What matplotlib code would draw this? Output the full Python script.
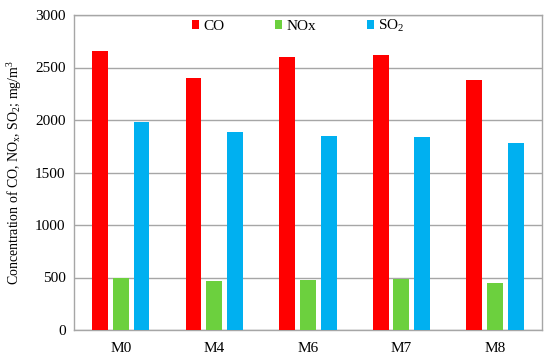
import matplotlib
matplotlib.use("Agg")
import matplotlib.pyplot as plt
import numpy as np

categories = ["M0", "M4", "M6", "M7", "M8"]
co = [2660, 2403, 2603, 2619, 2378]
nox = [498, 463, 473, 486, 444]
so2 = [1978, 1886, 1851, 1835, 1784]
series_names = ["CO", "NOx", "SO$_2$"]
colors = ["#FF0000", "#6CD03E", "#00B0F0"]

plt.rcParams["font.family"] = ["Liberation Serif", "DejaVu Serif"]
plt.rcParams["mathtext.fontset"] = "custom"
plt.rcParams["mathtext.rm"] = "Liberation Serif"
plt.rcParams["mathtext.it"] = "Liberation Serif:italic"
plt.rcParams["mathtext.bf"] = "Liberation Serif:bold"

fig = plt.figure(figsize=(5.5, 3.59), dpi=100)
ax = fig.add_axes([74/550, 1-330/359, (541.7-74)/550, (330-15)/359])

x = np.arange(len(categories))
w = 0.17
off = 0.222
for i, (vals, name, c) in enumerate(zip([co, nox, so2], series_names, colors)):
    ax.bar(x + (i-1)*off, vals, width=w, color=c, label=name, zorder=3)

ax.set_xlim(-0.5, len(categories)-0.5)
ax.set_ylim(0, 3000)
ax.set_yticks(np.arange(0, 3001, 500))
ax.set_xticks(x)
ax.set_xticklabels(categories)
ax.yaxis.grid(True, color="#A6A6A6", linewidth=1, zorder=0)
for s in ax.spines.values():
    s.set_color("#A6A6A6")
    s.set_linewidth(1)
ax.tick_params(axis="both", length=0, labelsize=11, colors="black", pad=6)
ax.tick_params(axis="x", pad=9)
ax.set_ylabel("Concentration of CO, NO$_\\mathrm{x}$, SO$_2$; mg/m$^3$", fontsize=10, labelpad=8)

ax.legend(loc="upper center", bbox_to_anchor=(0.48, 1.034), ncol=3, frameon=False,
          fontsize=11, handlelength=0.45, handleheight=0.45, handletextpad=0.3,
          columnspacing=3.3)

fig.savefig("out.png", dpi=100)
